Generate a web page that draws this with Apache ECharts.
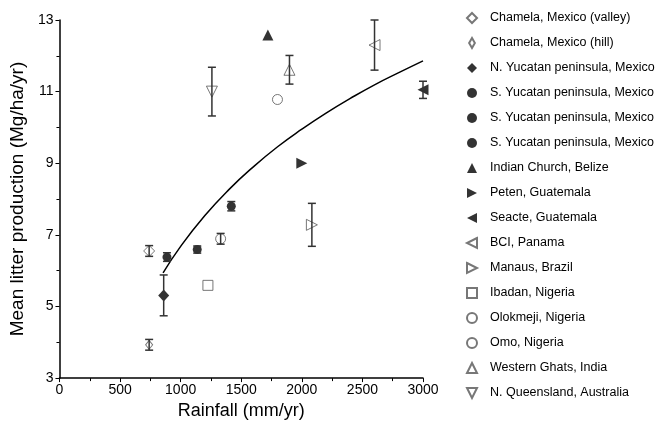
<!DOCTYPE html>
<html>
<head>
<meta charset="utf-8">
<script src="https://cdn.jsdelivr.net/npm/echarts@6/dist/echarts.min.js"></script>
<style>
  html, body { margin: 0; padding: 0; background: #fff; }
  #chart { width: 670px; height: 425px; }
</style>
</head>
<body>
<div id="chart"></div>
<script>
// sites, in legend order
const sites = [
  'Chamela, Mexico (valley)',
  'Chamela, Mexico (hill)',
  'N. Yucatan peninsula, Mexico',
  'S. Yucatan peninsula, Mexico#1',
  'S. Yucatan peninsula, Mexico#2',
  'S. Yucatan peninsula, Mexico#3',
  'Indian Church, Belize',
  'Peten, Guatemala',
  'Seacte, Guatemala',
  'BCI, Panama',
  'Manaus, Brazil',
  'Ibadan, Nigeria',
  'Olokmeji, Nigeria',
  'Omo, Nigeria',
  'Western Ghats, India',
  'N. Queensland, Australia'
]
// rainfall (mm/yr)
const rainfall = [740, 740, 860, 887, 1137, 1418, 1720, 2000, 3000, 2600, 2083, 1225, 1330, 1799, 1898, 1258]
// mean litter production (Mg/ha/yr)
const litter = [6.55, 3.93, 5.31, 6.38, 6.59, 7.8, 12.58, 9.0, 11.05, 12.3, 7.28, 5.59, 6.89, 10.78, 11.61, 11.0]
// half length of error bars, 0 = none
const errors = [0.15, 0.15, 0.57, 0.12, 0.1, 0.13, 0, 0, 0.24, 0.7, 0.6, 0, 0.15, 0, 0.4, 0.68]

// fitted curve
const fitX = [855, 1000, 1200, 1400, 1600, 1800, 2000, 2200, 2400, 2600, 2800, 3000]
const fitY = [5.94, 6.68, 7.54, 8.27, 8.90, 9.46, 9.95, 10.40, 10.81, 11.19, 11.53, 11.86]

const FONT = "'Liberation Sans', Arial, sans-serif"

const RIGHT = 'path://M0,0 L10,5 L0,10 Z'
const LEFT = 'path://M10,0 L0,5 L10,10 Z'
const DOWN = 'path://M0,0 L10,0 L5,10 Z'

// symbol, size, filled
const marks = [
  ['diamond', [11, 11], false],
  ['diamond', [7, 9], false],
  ['diamond', [11, 12], true],
  ['circle', 9, true],
  ['circle', 9, true],
  ['circle', 9, true],
  ['triangle', 11, true],
  [RIGHT, 11, true],
  [LEFT, 11, true],
  [LEFT, 11, false],
  [RIGHT, 11, false],
  ['rect', 10, false],
  ['circle', 10, false],
  ['circle', 10, false],
  ['triangle', 11, false],
  [DOWN, 11, false]
]

const chart = echarts.init(document.getElementById('chart'))

const pointSeries = sites.map((name, i) => {
  const m = marks[i]
  return {
    name: name,
    type: 'scatter',
    symbol: m[0],
    symbolSize: m[1],
    clip: false,
    z: 3,
    itemStyle: m[2]
      ? { color: '#000', borderWidth: 0 }
      : { color: '#fff', borderColor: '#555', borderWidth: 1 },
    data: [[rainfall[i], litter[i]]]
  }
})

const errData = []
rainfall.forEach((x, i) => {
  if (errors[i] > 0) errData.push([x, litter[i] - errors[i], litter[i] + errors[i]])
})

const legendData = sites.map((name, i) => {
  const item = { name: name }
  if (i === 1) item.icon = 'path://M4,0 L8,7 L4,14 L0,7 Z'
  return item
})

const option = {
  animation: false,
  textStyle: { fontFamily: FONT },
  grid: { left: 59, top: 20, right: 247, bottom: 45 },
  legend: {
    orient: 'vertical',
    left: 461,
    top: 6,
    itemWidth: 10,
    itemHeight: 10,
    itemGap: 11,
    data: legendData,
    formatter: name => name.split('#')[0],
    textStyle: { fontFamily: FONT, fontSize: 12.5, color: '#000', lineHeight: 14, padding: [0, 0, 0, 8] }
  },
  xAxis: {
    type: 'value',
    min: 0,
    max: 3000,
    interval: 500,
    name: 'Rainfall (mm/yr)',
    nameLocation: 'middle',
    nameGap: 22,
    nameTextStyle: { fontFamily: FONT, fontSize: 18, color: '#000' },
    axisLine: { lineStyle: { color: '#000', width: 1.5 } },
    axisTick: { length: 4, lineStyle: { color: '#000' } },
    minorTick: { show: true, splitNumber: 2, length: 3, lineStyle: { color: '#000' } },
    axisLabel: { fontFamily: FONT, fontSize: 14, color: '#000', margin: 5, formatter: v => String(v) },
    splitLine: { show: false }
  },
  yAxis: {
    type: 'value',
    min: 3,
    max: 13,
    interval: 2,
    name: 'Mean litter production (Mg/ha/yr)',
    nameLocation: 'middle',
    nameGap: 28,
    nameTextStyle: { fontFamily: FONT, fontSize: 19, color: '#000' },
    axisLine: { show: true, lineStyle: { color: '#000', width: 1.5 } },
    axisTick: { show: true, length: 4, lineStyle: { color: '#000' } },
    minorTick: { show: true, splitNumber: 2, length: 3, lineStyle: { color: '#000' } },
    axisLabel: { fontFamily: FONT, fontSize: 14, color: '#000', margin: 6 },
    splitLine: { show: false }
  },
  series: [
    {
      name: 'fit',
      type: 'line',
      smooth: true,
      showSymbol: false,
      z: 2,
      lineStyle: { color: '#000', width: 1.5 },
      data: fitX.map((x, i) => [x, fitY[i]])
    },
    ...pointSeries,
    {
      name: 'error',
      type: 'custom',
      z: 4,
      clip: false,
      data: errData,
      renderItem: (params, api) => {
        const x = api.value(0)
        const top = api.coord([x, api.value(2)])
        const bot = api.coord([x, api.value(1)])
        const style = { stroke: '#333', lineWidth: 1.5 }
        return {
          type: 'group',
          children: [
            { type: 'line', shape: { x1: top[0], y1: top[1], x2: bot[0], y2: bot[1] }, style: style },
            { type: 'line', shape: { x1: top[0] - 4, y1: top[1], x2: top[0] + 4, y2: top[1] }, style: style },
            { type: 'line', shape: { x1: bot[0] - 4, y1: bot[1], x2: bot[0] + 4, y2: bot[1] }, style: style }
          ]
        }
      }
    }
  ]
}

chart.setOption(option)
</script>
</body>
</html>
